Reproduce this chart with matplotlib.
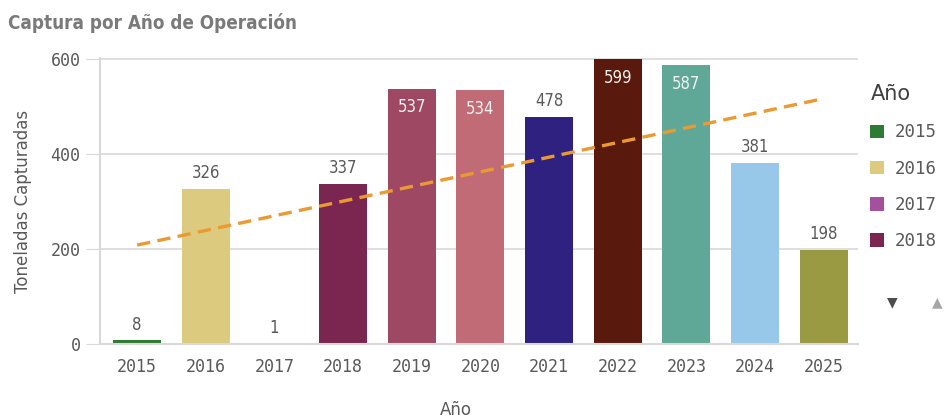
import matplotlib
matplotlib.use('Agg')
import matplotlib.pyplot as plt
import numpy as np

# data
years = ['2015', '2016', '2017', '2018', '2019', '2020', '2021', '2022', '2023', '2024', '2025']
capture = [8, 326, 1, 337, 537, 534, 478, 599, 587, 381, 198]
bar_colors = ['#2e7b34', '#dccb7e', '#a5509f', '#7b2650', '#9e4864', '#c06b76',
              '#2f2180', '#5a190d', '#5fa898', '#97c8ea', '#9a9a42']
inside_label = [False, False, False, False, True, True, False, True, True, False, False]
legend_years = years[:4]
yticks = [0, 200, 400, 600]

grid_col = '#d9d9d9'
text_col = '#595959'

fig = plt.figure(figsize=(9.44, 4.2), dpi=100)
ax = fig.add_axes([0.106, 0.181, 0.803, 0.681])

x = np.arange(len(years))
ax.bar(x, capture, width=0.7, color=bar_colors, zorder=2)

# linear trend over the bars
coef = np.polyfit(x, capture, 1)
ax.plot(x, np.polyval(coef, x), color='#eb9a32', linestyle=(0, (4, 2.2)),
        linewidth=2.4, zorder=3)

for xi, v, inside in zip(x, capture, inside_label):
    if inside:
        ax.text(xi, v - 20, str(v), ha='center', va='top', color='#f2f2f2',
                fontsize=12, fontstretch='condensed', zorder=4)
    else:
        ax.text(xi, v + 14, str(v), ha='center', va='bottom', color=text_col,
                fontsize=12, fontstretch='condensed', zorder=4)

ax.set_xlim(-0.54, 10.5)
ax.set_ylim(0, 602)
ax.set_xticks(x)
ax.set_xticklabels(years, family='DejaVu Sans Mono', fontsize=12, color=text_col)
ax.set_yticks(yticks)
ax.set_yticklabels([str(t) for t in yticks], family='DejaVu Sans Mono', fontsize=12,
                   color=text_col)
ax.tick_params(axis='y', length=10, color=grid_col, pad=4)
ax.tick_params(axis='x', length=0, pad=10)
ax.grid(axis='y', color=grid_col, linewidth=1.2, zorder=0)
for s in ['top', 'right']:
    ax.spines[s].set_visible(False)
for s in ['left', 'bottom']:
    ax.spines[s].set_color(grid_col)
    ax.spines[s].set_linewidth(1.5)

ax.set_xlabel('Año', fontsize=12, color=text_col, labelpad=8)
ax.xaxis.set_label_coords(0.47, -0.2)
ax.set_ylabel('Toneladas Capturadas', fontsize=12, color=text_col, labelpad=10)
ax.yaxis.set_label_coords(-0.09, 0.5)

fig.text(0.008, 0.945, 'Captura por Año de Operación', fontsize=13.5, fontweight='bold',
         fontstretch='condensed', color='#7a7a7a', va='center')

# legend (only first four years visible, with scroll arrows)
handles = [plt.Rectangle((0, 0), 1, 1, facecolor=c) for c in bar_colors[:4]]
leg = fig.legend(handles, legend_years, title='Año', loc='upper left',
                 bbox_to_anchor=(0.922, 0.80), frameon=False, handlelength=0.8,
                 handleheight=0.8, handletextpad=0.6, labelspacing=1.05,
                 borderpad=0, borderaxespad=0,
                 prop={'family': 'DejaVu Sans Mono', 'size': 12.5},
                 title_fontproperties={'size': 15})
leg._legend_box.align = 'left'
leg._legend_box.sep = 14
for t in leg.get_texts():
    t.set_color(text_col)
leg.get_title().set_color('#404040')
fig.text(0.945, 0.28, '▼', fontsize=10, color='#4d4d4d', ha='center', va='center')
fig.text(0.993, 0.28, '▲', fontsize=10, color='#a6a6a6', ha='center', va='center')

fig.savefig('out.png', dpi=100)
